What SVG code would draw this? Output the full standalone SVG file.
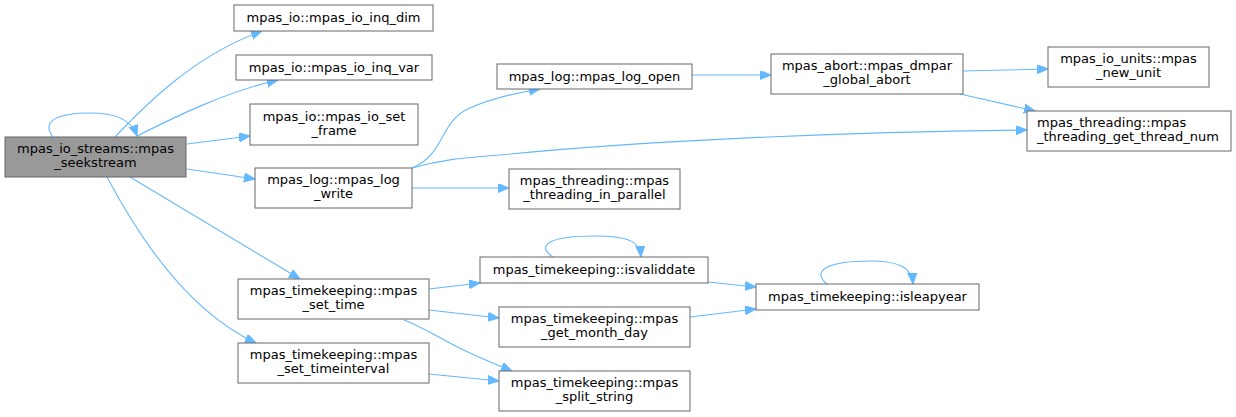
<svg xmlns="http://www.w3.org/2000/svg" width="1236" height="417" viewBox="0 0 1236 417">
<style>
.n rect{fill:#fff;stroke:#666;stroke-width:1}
.n.m rect{fill:#999;stroke:#666}
.n text{font-family:"DejaVu Sans",sans-serif;font-size:13px;fill:#000;text-anchor:middle}
.n text.l{text-anchor:start}
.e path{fill:none;stroke:#63b8ff;stroke-width:1.1}
</style>
<defs>
<marker id="a" markerUnits="userSpaceOnUse" markerWidth="12" markerHeight="10" refX="11" refY="4.5" orient="auto">
<path d="M0,0 L11,4.5 L0,9 z" fill="#63b8ff" stroke="#63b8ff"/>
</marker>
</defs>
<rect width="1236" height="417" fill="#fff"/>
<g id="edges" class="e">
<path marker-end="url(#a)" d="M53,137 C40,120 60,113 90,113 C115,113 131,119 137,136"/>
<path marker-end="url(#a)" d="M115,137 C145,105 195,55 262,31"/>
<path marker-end="url(#a)" d="M137,136 C175,117 225,92 278,80"/>
<path marker-end="url(#a)" d="M187,144 L250,136"/>
<path marker-end="url(#a)" d="M187,169 L255,179"/>
<path marker-end="url(#a)" d="M130,177 L300,279"/>
<path marker-end="url(#a)" d="M107,177 C135,230 185,310 256,343"/>
<path marker-end="url(#a)" d="M412,168 C445,155 440,120 470,108 C490,99 515,93 540,89"/>
<path marker-end="url(#a)" d="M412,168 C440,160 460,158 500,155 C650,140 850,132 1027,130"/>
<path marker-end="url(#a)" d="M412,188 L509,188"/>
<path marker-end="url(#a)" d="M692,75 L771,75"/>
<path marker-end="url(#a)" d="M963,71 L1048,69"/>
<path marker-end="url(#a)" d="M960,94 L1035,111"/>
<path marker-end="url(#a)" d="M429,289 L480,283"/>
<path marker-end="url(#a)" d="M429,310 L499,318"/>
<path marker-end="url(#a)" d="M404,320 C430,330 450,345 470,353 C485,360 500,366 512,371"/>
<path marker-end="url(#a)" d="M429,374 L499,381"/>
<path marker-end="url(#a)" d="M553,257 C535,245 550,236 595,236 C630,236 640,242 641,257"/>
<path marker-end="url(#a)" d="M708,282 L756,287"/>
<path marker-end="url(#a)" d="M690,317 L756,309"/>
<path marker-end="url(#a)" d="M827,284 C810,270 830,261 870,261 C900,261 912,268 913,284"/>
</g>
<g id="main" class="n m"><rect x="5" y="137" width="181" height="40"/><text x="95.5" y="153">mpas_io_streams::mpas</text><text x="95.5" y="167">_seekstream</text></g>
<g id="inq_dim" class="n"><rect x="234" y="5" width="199" height="26"/><text x="333.5" y="22">mpas_io::mpas_io_inq_dim</text></g>
<g id="inq_var" class="n"><rect x="236" y="55" width="196" height="25"/><text x="334" y="72">mpas_io::mpas_io_inq_var</text></g>
<g id="set_frame" class="n"><rect x="250" y="104" width="168" height="41"/><text x="334" y="121">mpas_io::mpas_io_set</text><text x="334" y="135">_frame</text></g>
<g id="log_write" class="n"><rect x="255" y="168" width="157" height="40"/><text x="333.5" y="184">mpas_log::mpas_log</text><text x="333.5" y="198">_write</text></g>
<g id="set_time" class="n"><rect x="238" y="279" width="191" height="40"/><text x="333.5" y="295">mpas_timekeeping::mpas</text><text x="333.5" y="309">_set_time</text></g>
<g id="set_timeinterval" class="n"><rect x="238" y="343" width="191" height="40"/><text x="333.5" y="359">mpas_timekeeping::mpas</text><text x="333.5" y="373">_set_timeinterval</text></g>
<g id="log_open" class="n"><rect x="497" y="64" width="195" height="25"/><text x="594.5" y="81">mpas_log::mpas_log_open</text></g>
<g id="in_parallel" class="n"><rect x="509" y="169" width="171" height="40"/><text x="594.5" y="185">mpas_threading::mpas</text><text x="594.5" y="199">_threading_in_parallel</text></g>
<g id="global_abort" class="n"><rect x="771" y="54" width="192" height="40"/><text x="867" y="70">mpas_abort::mpas_dmpar</text><text x="867" y="84">_global_abort</text></g>
<g id="new_unit" class="n"><rect x="1048" y="47" width="161" height="40"/><text x="1128.5" y="63">mpas_io_units::mpas</text><text x="1128.5" y="77">_new_unit</text></g>
<g id="thread_num" class="n"><rect x="1027" y="111" width="204" height="40"/><text class="l" x="1037" y="127">mpas_threading::mpas</text><text class="l" x="1037" y="141">_threading_get_thread_num</text></g>
<g id="isvaliddate" class="n"><rect x="480" y="257" width="228" height="26"/><text x="594" y="274">mpas_timekeeping::isvaliddate</text></g>
<g id="month_day" class="n"><rect x="499" y="307" width="191" height="40"/><text x="594.5" y="323">mpas_timekeeping::mpas</text><text x="594.5" y="337">_get_month_day</text></g>
<g id="split_string" class="n"><rect x="499" y="371" width="191" height="40"/><text x="594.5" y="387">mpas_timekeeping::mpas</text><text x="594.5" y="401">_split_string</text></g>
<g id="isleapyear" class="n"><rect x="756" y="284" width="223" height="26"/><text x="867.5" y="301">mpas_timekeeping::isleapyear</text></g>
</svg>
